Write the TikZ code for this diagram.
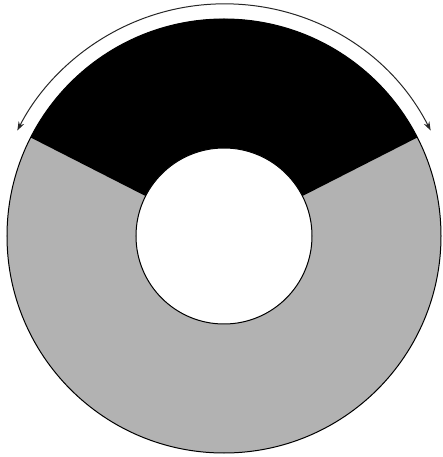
\documentclass[tikz,border=0pt]{standalone}
\usetikzlibrary{arrows.meta}
\definecolor{ringgray}{gray}{0.70}
\tikzset{
  outline/.style={draw=black, line width=1pt},
  spanarrow/.style={draw=black!85, line width=1pt, {Stealth[length=9pt,width=6pt]}-{Stealth[length=9pt,width=6pt]}}
}
\begin{document}
\begin{tikzpicture}[x=1pt,y=1pt]
\useasboundingbox (-224,-221) rectangle (218,236);
\coordinate (c) at (0,0);
% gray disk
\fill[ringgray] (c) circle[radius=217];
% black sector
\fill[black] (27:217) arc[start angle=27, end angle=153, radius=217] -- (153:88) arc[start angle=153, end angle=27, radius=88] -- cycle;
% outlines
\draw[outline] (c) circle[radius=217];
\fill[white] (c) circle[radius=88];
\draw[outline] (c) circle[radius=88];
% arrow
\draw[spanarrow] (27:232) arc[start angle=27, end angle=153, radius=232];
\end{tikzpicture}
\end{document}
